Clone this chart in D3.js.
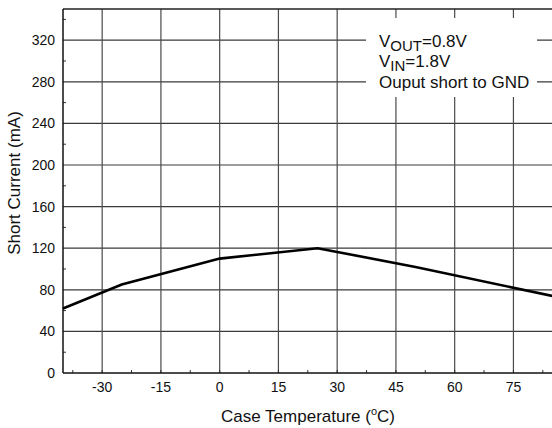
<!DOCTYPE html>
<html><head><meta charset="utf-8">
<script src="https://cdn.jsdelivr.net/npm/d3@7"></script>
<style>body{margin:0;background:#fff}svg{display:block;font-family:"Liberation Sans",Arial,sans-serif}</style>
</head><body>
<svg id="c" width="552" height="428"></svg>
<script>
const temps = [-40, -25, 0, 25, 50, 85];
const current = [62, 85, 110, 120, 102, 74];
const xTicks = [-30, -15, 0, 15, 30, 45, 60, 75];
const yTicks = [0, 40, 80, 120, 160, 200, 240, 280, 320];
const xMinor = d3.range(-37.5, 85, 7.5);
const yMinor = d3.range(20, 350, 40);

const svg = d3.select("#c");
const m = {l: 63, t: 9, r: 552.6, b: 373};
const x = d3.scaleLinear().domain([-40, 85]).range([m.l, m.r]);
const y = d3.scaleLinear().domain([0, 350]).range([m.b, m.t]);

// grid
svg.append("g").selectAll("line").data(yTicks.filter(d => d > 0)).join("line")
  .attr("x1", m.l).attr("x2", m.r).attr("y1", d => y(d)).attr("y2", d => y(d))
  .attr("stroke", "#3a3a3a").attr("stroke-width", 1.2);
svg.append("g").selectAll("line").data(xTicks).join("line")
  .attr("y1", m.t).attr("y2", m.b).attr("x1", d => x(d)).attr("x2", d => x(d))
  .attr("stroke", "#4a4a4a").attr("stroke-width", 1.2);

// minor ticks
svg.append("g").selectAll("line").data(xMinor).join("line")
  .attr("y1", m.b).attr("y2", m.b - 3).attr("x1", d => x(d)).attr("x2", d => x(d))
  .attr("stroke", "#333").attr("stroke-width", 1);
svg.append("g").selectAll("line").data(yMinor).join("line")
  .attr("x1", m.l).attr("x2", m.l + 3).attr("y1", d => y(d)).attr("y2", d => y(d))
  .attr("stroke", "#333").attr("stroke-width", 1);

// legend box
svg.append("rect").attr("x", 366).attr("y", 18).attr("width", 171).attr("height", 79).attr("fill", "#fff");

// axes frame
svg.append("line").attr("x1", m.l).attr("x2", m.r).attr("y1", m.t).attr("y2", m.t).attr("stroke", "#222").attr("stroke-width", 1.5);
svg.append("line").attr("x1", m.l).attr("x2", m.r).attr("y1", m.b).attr("y2", m.b).attr("stroke", "#111").attr("stroke-width", 1.5);
svg.append("line").attr("x1", m.l).attr("x2", m.l).attr("y1", m.t).attr("y2", m.b).attr("stroke", "#111").attr("stroke-width", 1.5);

// data line
svg.append("path").datum(temps.map((t, i) => [t, current[i]]))
  .attr("d", d3.line().x(d => x(d[0])).y(d => y(d[1])))
  .attr("fill", "none").attr("stroke", "#000").attr("stroke-width", 2.6).attr("stroke-linejoin", "miter");

// tick labels
svg.append("g").selectAll("text").data(xTicks).join("text")
  .attr("x", d => x(d)).attr("y", 392).attr("text-anchor", "middle")
  .attr("font-size", 14).attr("fill", "#111").text(d => d);
svg.append("g").selectAll("text").data(yTicks).join("text")
  .attr("x", 55).attr("y", d => y(d) + 5).attr("text-anchor", "end")
  .attr("font-size", 14).attr("fill", "#111").text(d => d);

// axis titles
const xt = svg.append("text").attr("x", 308).attr("y", 422).attr("text-anchor", "middle")
  .attr("font-size", 17).attr("fill", "#111");
xt.append("tspan").text("Case Temperature (");
xt.append("tspan").attr("font-size", 11).attr("dy", -7).text("o");
xt.append("tspan").attr("dy", 7).text("C)");

svg.append("text").attr("transform", "translate(20,183) rotate(-90)").attr("text-anchor", "middle")
  .attr("font-size", 17).attr("fill", "#111").text("Short Current (mA)");

// legend text
const l1 = svg.append("text").attr("x", 379).attr("y", 46.5).attr("font-size", 17).attr("fill", "#111");
l1.append("tspan").text("V");
l1.append("tspan").attr("font-size", 15).attr("dy", 4).text("OUT");
l1.append("tspan").attr("dy", -4).text("=0.8V");
const l2 = svg.append("text").attr("x", 379).attr("y", 67).attr("font-size", 17).attr("fill", "#111");
l2.append("tspan").text("V");
l2.append("tspan").attr("font-size", 15).attr("dy", 4).text("IN");
l2.append("tspan").attr("dy", -4).text("=1.8V");
svg.append("text").attr("x", 379).attr("y", 88).attr("font-size", 17).attr("fill", "#111").text("Ouput short to GND");
</script>
</body></html>
